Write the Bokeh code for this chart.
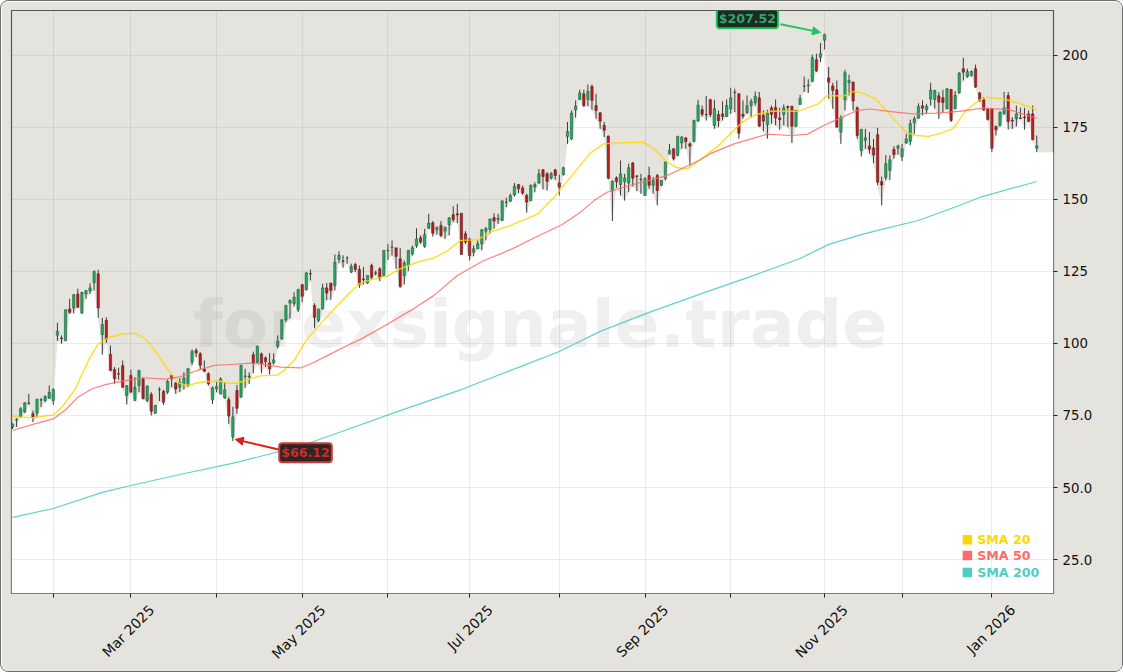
from math import pi
from bokeh.plotting import figure
from bokeh.embed import file_html
from bokeh.resources import INLINE
from bokeh.models import Range1d, FixedTicker, Label, Arrow, NormalHead, ColumnDataSource, LinearAxis
from bokeh.core.properties import value

opens = [71.0,73.4,74.6,76.2,79.2,75.6,75.8,80.3,80.2,81.0,
 80.2,102.9,101.9,101.0,112.0,112.3,117.2,110.5,117.2,118.2,
 121.1,124.2,103.1,108.0,96.2,91.0,89.5,92.3,82.0,88.9,
 80.2,85.4,87.7,80.2,82.3,75.8,84.0,83.3,83.1,88.9,
 86.2,84.8,86.0,85.4,93.5,97.6,96.4,91.2,89.5,80.4,
 84.2,82.5,81.1,80.5,67.5,83.7,81.4,88.6,88.3,96.1,
 93.5,96.4,95.0,93.3,93.2,99.0,101.6,108.2,114.0,113.8,
 111.7,120.4,118.7,124.1,113.2,108.0,112.0,119.3,121.0,120.1,
 129.2,128.7,129.6,124.8,127.4,125.7,122.4,121.0,127.1,124.5,
 125.9,123.6,132.2,133.4,133.2,129.4,123.6,127.1,131.1,134.0,
 136.7,133.7,140.0,141.9,139.5,141.0,139.0,141.2,144.7,145.0,
 145.2,138.1,136.3,131.7,132.9,134.6,139.0,139.6,143.7,143.0,
 142.7,149.0,149.4,151.6,155.2,154.0,151.4,149.6,154.3,155.7,
 160.3,158.9,157.4,160.3,155.7,158.6,171.9,171.0,181.1,184.7,
 186.7,184.7,189.2,182.6,180.1,175.7,172.0,153.0,157.5,155.2,
 156.2,155.7,162.7,158.2,157.0,151.4,158.3,154.9,158.3,154.9,
 157.2,165.8,167.6,165.3,169.6,171.4,169.3,170.1,177.2,181.2,
 179.5,184.6,175.7,179.5,179.7,178.8,181.4,187.1,186.7,179.6,
 180.2,182.6,183.6,185.3,179.2,176.0,181.8,182.0,178.3,179.5,
 182.3,182.3,175.4,183.0,189.3,189.6,191.0,198.5,199.4,205.3,
 192.2,189.4,188.1,173.4,184.6,190.5,190.7,181.8,167.0,170.5,
 168.6,167.9,172.5,156.2,157.6,160.1,167.4,167.8,164.9,169.6,
 170.2,176.6,178.2,182.5,181.1,184.9,184.7,186.0,185.3,181.5,
 188.2,181.5,187.0,195.4,192.7,193.0,195.4,187.0,184.6,181.5,
 181.5,175.3,175.7,179.7,186.1,177.5,178.0,178.3,178.6,179.7,
 179.7,167.8]
highs = [72.3,74.0,77.9,79.6,82.5,76.7,80.8,81.1,82.0,85.4,
 84.5,107.2,102.8,111.8,115.5,117.2,119.0,117.9,118.4,120.9,
 125.35,125.6,108.9,109.1,99.3,91.8,91.6,94.1,85.4,90.9,
 88.3,90.9,88.3,85.4,83.1,78.7,84.8,83.9,87.4,89.2,
 86.6,88.0,90.0,91.5,97.9,98.4,97.0,94.1,90.0,85.1,
 86.9,88.3,86.6,81.4,78.0,85.6,92.6,91.2,90.0,97.2,
 99.3,96.8,95.5,96.6,96.6,102.8,108.4,113.4,115.3,117.8,
 119.0,120.7,124.8,125.7,114.0,112.0,120.7,121.0,121.0,130.9,
 132.0,130.6,130.3,127.7,128.0,127.1,126.5,123.6,127.7,125.3,
 126.5,132.3,134.6,135.8,133.2,133.2,128.8,132.5,134.0,140.0,
 137.5,139.8,145.0,142.5,140.6,142.5,140.6,143.9,147.6,148.5,
 145.2,139.0,136.7,134.0,135.8,139.6,140.4,143.3,145.2,145.0,
 149.7,150.6,152.0,155.7,155.4,154.8,152.0,155.2,156.0,160.6,
 160.6,159.5,159.5,160.6,158.6,161.4,176.9,180.9,184.4,188.1,
 188.1,189.9,189.9,186.7,180.3,176.9,172.2,156.6,158.0,163.5,
 158.9,162.4,163.0,158.3,158.9,157.8,161.4,157.8,158.9,156.8,
 163.2,169.3,167.8,172.1,172.1,171.6,169.9,177.7,184.6,182.6,
 185.9,185.0,184.6,180.9,184.1,184.7,188.8,188.4,186.9,184.4,
 186.1,185.0,187.5,187.3,180.9,181.1,182.6,184.7,181.8,183.0,
 182.6,182.6,181.1,186.3,192.7,191.7,200.3,200.6,204.3,207.52,
 196.0,190.5,191.3,179.2,195.0,193.3,191.0,182.3,174.5,174.5,
 173.4,171.0,174.9,158.0,165.4,165.3,168.5,169.0,169.3,172.8,
 177.7,178.9,183.4,184.4,183.2,190.5,188.1,187.3,188.1,188.7,
 188.4,187.6,194.2,199.2,195.4,194.8,196.8,187.3,185.5,181.8,
 181.8,175.7,180.6,187.3,187.3,178.6,182.6,181.8,181.8,180.9,
 182.6,172.2]
lows = [70.3,71.0,74.4,75.8,78.7,72.7,74.4,77.9,79.6,80.8,
 78.7,100.9,99.9,100.8,110.3,110.5,112.4,110.3,115.5,117.2,
 118.4,108.9,96.1,100.2,90.4,86.0,87.4,84.6,78.8,82.9,
 80.0,83.1,80.6,79.6,75.0,75.6,80.0,78.7,82.5,84.8,
 82.5,83.1,84.0,84.8,92.4,95.3,90.9,90.0,85.4,79.0,
 83.1,82.3,80.8,72.1,66.12,75.6,81.1,84.6,86.0,89.7,
 93.2,89.7,91.8,89.2,92.7,98.2,101.3,107.4,108.6,112.9,
 110.9,114.3,118.4,121.9,105.3,107.4,111.7,115.0,115.2,118.4,
 127.9,126.3,127.7,124.4,124.8,119.3,120.5,120.7,122.1,123.6,
 121.6,123.4,129.0,130.5,125.9,119.3,120.5,125.1,130.5,133.2,
 134.6,133.2,139.8,137.1,137.8,136.9,136.3,137.5,142.1,141.8,
 130.8,134.6,128.8,130.3,132.9,132.3,135.8,138.1,139.8,141.5,
 142.5,147.3,149.1,151.0,152.2,151.6,145.4,149.4,152.5,155.4,
 153.5,153.1,156.9,156.8,151.4,158.3,169.3,170.7,178.4,184.6,
 182.1,182.4,181.1,178.0,174.5,171.6,157.0,142.5,154.0,151.4,
 149.6,152.5,154.5,152.9,152.0,151.2,153.7,152.0,147.9,154.6,
 156.6,165.6,163.5,165.0,167.6,167.6,161.8,169.9,177.0,178.8,
 177.4,178.6,174.5,175.1,177.4,178.6,179.7,180.3,171.1,178.0,
 179.7,178.4,182.6,175.1,173.6,171.1,176.3,175.7,174.2,175.7,
 175.1,169.6,175.1,183.0,187.3,187.0,190.7,194.2,197.7,202.1,
 185.0,181.5,174.9,169.3,180.9,186.1,180.9,171.1,164.9,167.6,
 165.9,162.6,154.9,147.9,156.6,156.8,164.1,165.6,163.3,169.3,
 168.8,172.8,178.0,179.2,179.7,182.6,181.5,178.0,180.3,181.3,
 176.9,181.3,186.7,191.3,192.2,192.7,188.7,183.8,180.7,177.4,
 166.4,172.2,175.3,179.5,174.3,174.5,175.3,178.0,174.3,176.9,
 170.5,166.4]
closes = [72.0,73.6,77.3,79.4,79.4,74.4,80.6,80.5,81.6,83.0,
 84.0,104.2,101.7,111.7,110.8,116.9,112.6,117.7,118.4,119.3,
 125.0,112.3,106.6,101.5,90.6,87.8,89.4,84.8,85.4,83.1,
 84.8,90.6,80.8,85.2,76.5,78.5,84.1,79.6,86.9,87.7,
 84.2,86.6,88.0,91.2,97.2,96.7,92.4,90.4,86.0,84.6,
 85.1,87.7,83.9,74.8,74.5,77.5,92.4,88.7,88.7,93.2,
 99.0,92.9,93.7,91.2,94.3,100.8,108.2,113.2,114.9,116.1,
 118.7,116.4,124.5,124.3,109.1,112.0,119.3,117.5,118.4,128.2,
 130.6,128.5,129.6,126.7,125.7,120.5,122.2,123.6,123.0,124.4,
 122.8,132.3,132.3,133.5,130.2,119.8,128.0,132.3,133.2,136.3,
 135.2,137.8,141.8,138.3,140.3,137.5,140.3,143.6,143.0,144.6,
 130.9,135.2,130.5,132.9,134.6,139.5,139.9,143.2,142.5,143.5,
 149.5,149.1,151.3,154.5,153.7,152.2,149.1,154.9,155.2,158.9,
 158.0,156.3,159.0,158.3,154.3,161.0,173.6,180.0,182.4,187.0,
 182.6,187.5,184.4,180.9,177.2,174.0,157.4,156.3,156.2,158.9,
 157.5,161.0,157.4,158.0,156.9,157.2,154.9,156.6,153.1,156.6,
 163.0,167.0,164.1,171.9,171.6,170.1,168.5,177.4,182.7,179.6,
 179.4,179.5,181.5,177.4,178.8,182.6,185.3,187.3,173.0,178.9,
 182.5,184.0,185.8,175.5,177.2,180.0,179.5,178.3,177.7,181.8,
 181.9,175.4,180.9,185.0,189.4,189.7,199.2,194.6,200.6,207.3,
 190.7,187.9,175.1,178.4,194.0,191.3,184.2,172.2,174.3,171.4,
 167.4,165.4,156.0,155.0,162.4,163.8,165.6,168.6,167.6,171.0,
 176.3,178.0,182.3,181.7,182.3,188.0,187.8,183.8,183.6,188.4,
 177.4,186.1,193.9,194.2,194.4,194.4,189.0,184.4,181.1,177.8,
 167.8,174.2,180.3,181.8,177.1,177.2,179.7,178.1,178.4,177.1,
 170.8,168.6]

sma20_x = [0,5,10,12.5,15.4,18.6,21,23.5,26.8,30,32.5,35,37.4,39.5,41,43,45.2,47.7,51,52.6,55,57.5,60.8,64.9,66.5,69,72.2,75.5,79.6,82.8,84.9,87.7,91.8,95,99.1,103.3,106.5,109.8,113.9,117.2,122.1,124.5,128.6,132.7,135.1,138.4,141.6,144.9,148.2,151.4,154.7,157.2,160.4,162.9,165.4,169.4,173.5,176.8,179.2,182,185.7,192.3,197.2,199.6,203.7,206.2,208.3,211.6,214,216.5,218.9,221.4,224.6,227.9,230.4,233.7,237,239,243.4,246.7,251]
sma20_y = [74.6,74.2,75.2,78.5,84.3,94.1,99.9,102,103.3,103.6,101.6,97.3,92.3,88.3,86.2,85.4,86.3,86.8,86.9,86.2,86.2,87.4,88.8,89,90.6,94.1,101.6,106.8,113.2,117.8,120.7,122.1,123.4,125.9,128.2,129.7,132.1,135.8,136,138.7,141,142.5,144.8,150.8,154.9,160.6,166.1,169.3,169.6,169.8,169.8,167.6,163,161,160.6,164.7,169.3,174,177.2,179.4,180.6,180.6,183,186.1,185.9,187.5,186.9,184.9,181.1,177.2,173.4,172.2,171.9,173.2,174.5,180.9,184.6,185.5,184.7,183.4,181.1]
sma50_x = [0,5,10,13,16,19.5,23,27,32,37.4,41.2,45.2,49.4,53.5,58.4,60.8,65.7,70.6,73.9,78,82,85.5,91,97.5,103.3,109,115.5,119.6,123.7,127,134.7,139.2,142.5,145.7,150.6,156.4,160.4,164.5,168.7,171,176.8,185,190.6,194.7,198.8,202,207,210.3,214.8,220.5,226.3,232,237.7,244.2,247.5,251]
sma50_y = [69.8,71.9,73.8,77,81.3,84.3,85.8,86.9,88.1,87.6,88.5,90.6,92.4,92.7,93.2,92.9,91.8,91.5,93.5,96.4,99.3,101.6,106,111.4,116.7,123.6,128.8,131.1,133.7,136.1,141.3,145.6,149.6,152.5,154.6,156.8,158.3,161,163.9,165.9,169.3,172.7,172.2,172.6,175.7,177.7,180.9,181.4,180.6,179.7,180,180.6,181.7,181.2,179.7,178.2]
sma200_x = [0,10,22,29,41,55,71,80,95,110,124,134,144,156,169,181,193,200,208,213,222,232,237,251]
sma200_y = [39.6,42.7,48.3,50.7,54.5,58.7,64.6,69.1,76.7,84,91.7,97.2,104.2,110.8,117.4,123.3,129.5,134.4,137.8,139.6,142.7,147.9,150.7,156.25]

x_ticks = [10,29,50,71,92,112,134,155,176,199,218,240]
x_label_ticks = [29,71,112,155,199,240]
x_labels = ["Mar 2025","May 2025","Jul 2025","Sep 2025","Nov 2025","Jan 2026"]
y_ticks = [25,50,75,100,125,150,175,200]
y_labels = ["25.0","50.0","75.0","100","125","150","175","200"]
legend_names = ["SMA 20","SMA 50","SMA 200"]
legend_colors = ["#FFD700","#FF6B6B","#4ECDC4"]
legend_levels = [31.9,26.4,20.5]

BG = "#e5e3dd"
FONT = "DejaVu Sans"
X0, X1 = -0.25, 255.1
LABEL_SHIFT = 5.1

p = figure(width=1123, height=672, output_backend="svg", toolbar_location=None,
           y_axis_location="right",
           x_range=Range1d(X0, X1), y_range=Range1d(13.2, 215.6),
           min_border_left=10, min_border_top=9, min_border_right=71, min_border_bottom=80,
           background_fill_color=BG, border_fill_color=BG)
p.styles = {"position": "absolute", "left": "0px", "top": "0px",
            "border": "1px solid #6f6f6f", "border-radius": "8px", "overflow": "hidden"}
p.outline_line_color = "#555555"
p.outline_line_width = 1.2

p.xaxis.ticker = FixedTicker(ticks=x_ticks)
p.xaxis.major_label_overrides = {t: "" for t in x_ticks}
p.xaxis.major_label_standoff = 0
p.xaxis.axis_line_color = None
p.yaxis.axis_line_color = None
p.yaxis.ticker = FixedTicker(ticks=y_ticks)
p.yaxis.major_label_overrides = dict(zip(y_ticks, y_labels))
for ax in (p.xaxis[0], p.yaxis[0]):
    ax.major_tick_line_color = "#222222"
    ax.major_tick_out = 4
    ax.major_tick_in = 0
    ax.minor_tick_line_color = None
    ax.major_label_text_font = FONT
    ax.major_label_text_font_size = "13.3px"
    ax.major_label_text_color = "#111111"
p.yaxis.major_label_standoff = 5

# rotated month labels: a second axis on a shifted range, so that each label centres on its tick
p.extra_x_ranges = {"labels": Range1d(X0 - LABEL_SHIFT, X1 - LABEL_SHIFT)}
lab_axis = LinearAxis(x_range_name="labels", ticker=FixedTicker(ticks=x_label_ticks),
                      major_label_overrides=dict(zip(x_label_ticks, x_labels)),
                      major_label_orientation=pi / 4, major_label_standoff=10,
                      major_label_text_font=FONT, major_label_text_font_size="14px",
                      major_label_text_color="#111111",
                      axis_line_color=None, major_tick_line_color=None, minor_tick_line_color=None,
                      major_tick_out=0, major_tick_in=0)
p.add_layout(lab_axis, "below")

p.grid.level = "glyph"
p.grid.grid_line_color = "#808080"
p.grid.grid_line_alpha = 0.16
p.grid.grid_line_width = 1

# white area under the lows
n = len(lows)
idx = list(range(n))
area_x = [X0] + idx + [X1]
area_top = [lows[0]] + lows + [lows[-1]]
p.varea(x=area_x, y1=[13.2] * len(area_x), y2=area_top, fill_color="white", level="underlay")

# watermark
p.text(x=[129.4], y=[106.6], text=["forexsignale.trade"], text_font=value(FONT), text_font_style="bold",
       text_font_size="66.6px", text_color="#808080", text_alpha=0.13,
       text_align="center", text_baseline="middle")

# candles
src = ColumnDataSource(dict(
    x=idx, low=lows, high=highs,
    top=[max(o, c) for o, c in zip(opens, closes)],
    bottom=[min(o, c) for o, c in zip(opens, closes)],
    color=["#1fae60" if c >= o else "#c01b1b" for o, c in zip(opens, closes)],
    edge=["#1d4a33" if c >= o else "#4a1c1c" for o, c in zip(opens, closes)],
))
p.segment(x0="x", y0="low", x1="x", y1="high", source=src, line_color="#3a3a3a", line_width=1)
p.vbar(x="x", width=0.58, top="top", bottom="bottom", source=src, fill_color="color",
       line_color="edge", line_width=0.5)

# moving averages
p.line(sma20_x, sma20_y, line_color=legend_colors[0], line_width=1.4, line_alpha=0.85, line_join="round")
p.line(sma50_x, sma50_y, line_color=legend_colors[1], line_width=1.2, line_alpha=0.85, line_join="round")
p.line(sma200_x, sma200_y, line_color=legend_colors[2], line_width=1.2, line_alpha=0.9, line_join="round")

# legend
p.scatter(x=[234] * 3, y=legend_levels, marker="square", size=9.5,
          fill_color=legend_colors, line_color=None)
for name, col, lev in zip(legend_names, legend_colors, legend_levels):
    p.add_layout(Label(x=236.4, y=lev, text=name, text_align="left", text_baseline="middle",
                       text_font=FONT, text_font_style="bold", text_font_size="12.6px",
                       text_color=col))

# peak and trough notes
p.add_layout(Arrow(end=NormalHead(size=8, fill_color="#22c55e", line_color="#22c55e"),
                   x_start=188.2, y_start=210.8, x_end=198.0, y_end=208.0,
                   line_color="#22c55e", line_width=2))
p.add_layout(Arrow(end=NormalHead(size=8, fill_color="#e01e1e", line_color="#e01e1e"),
                   x_start=65.2, y_start=63.2, x_end=54.6, y_end=66.7,
                   line_color="#e01e1e", line_width=2))
p.add_layout(Label(x=180.1, y=212.7, text="$207.52", text_align="center", text_baseline="middle",
                   text_font=FONT, text_font_style="bold", text_font_size="12.6px", text_color="#2fa866",
                   background_fill_color="#1b2a22", border_line_color="#22c55e", border_line_width=2,
                   border_radius=3, padding=2))
p.add_layout(Label(x=71.8, y=62.1, text="$66.12", text_align="center", text_baseline="middle",
                   text_font=FONT, text_font_style="bold", text_font_size="12.6px", text_color="#cf2a2a",
                   background_fill_color="#2d2626", border_line_color="#d13a3a", border_line_width=2,
                   border_radius=3, padding=2))

open("out.html", "w").write(file_html(p, INLINE))
